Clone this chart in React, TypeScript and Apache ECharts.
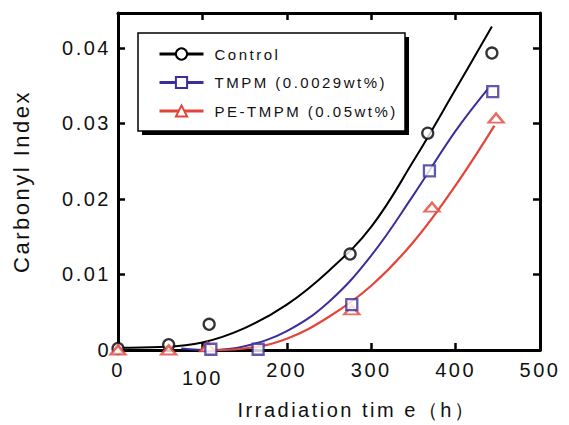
import React, { useEffect, useRef } from "react";
import * as echarts from "echarts";

// Measured points
const controlX = [0, 60, 108, 275, 367, 443];
const controlY = [0.0002, 0.0007, 0.0034, 0.0127, 0.0287, 0.0393];
const tmpmX = [110, 166, 277, 369, 444];
const tmpmY = [0.0001, 0.0001, 0.006, 0.0237, 0.0342];
const peX = [0, 60, 106, 277, 372, 448];
const peY = [0.0, 0.0, 0.0004, 0.0053, 0.0189, 0.0307];

// Fitted curves
const controlFitX = [0, 50, 100, 150, 200, 250, 300, 350, 400, 443];
const controlFitY = [0.0003, 0.0004, 0.001, 0.0029, 0.006, 0.0105, 0.0163, 0.025, 0.0345, 0.0428];
const tmpmFitX = [75, 110, 150, 200, 250, 300, 350, 400, 440];
const tmpmFitY = [0.0002, 0.0, 0.0005, 0.0025, 0.0064, 0.0125, 0.0205, 0.029, 0.0348];
const peFitX = [110, 150, 200, 250, 300, 350, 400, 446];
const peFitY = [0.0, 0.0002, 0.0015, 0.0044, 0.0085, 0.0143, 0.0218, 0.0297];

const seriesNames = ["Control", "TMPM (0.0029wt%)", "PE-TMPM (0.05wt%)"];
const xTitle = "Irradiation tim e（h）";
const yTitle = "Carbonyl Index";

const FONT = "'Liberation Sans', Arial, sans-serif";
const BLACK = "#000000";
const BLUE = "#3a2f98";
const RED = "#e4453a";

const zip = (xs: number[], ys: number[]) => xs.map((x, i) => [x, ys[i]]);

export default function App() {
  const ref = useRef<HTMLDivElement>(null);
  useEffect(() => {
    if (!ref.current) return;
    const chart = echarts.init(ref.current, undefined, { renderer: "svg" });
    const axisLine = { show: true, onZero: false, lineStyle: { color: "#000", width: 3 } };
    const axisTick = { show: true, inside: true, length: 7, lineStyle: { color: "#000", width: 2.5 } };
    const yFmt = (v: number) => {
      const r = Math.round(v * 100) / 100;
      if (Math.abs(v - r) > 1e-9) return "";
      return r === 0 ? "0" : r.toFixed(2);
    };
    const option: any = {
      animation: false,
      grid: { left: 118, right: 29, top: 13, bottom: 75 },
      xAxis: [
        {
          type: "value",
          min: 0,
          max: 500,
          interval: 100,
          position: "bottom",
          axisLine,
          axisTick,
          splitLine: { show: false },
          axisLabel: {
            margin: 10,
            fontSize: 20,
            color: "#111",
            fontFamily: FONT,
            formatter: (v: number) => (v === 100 ? "{low|100}" : String(v)),
            rich: { low: { padding: [8, 0, 0, 0], fontSize: 20, color: "#111", fontFamily: FONT } },
          },
          name: xTitle,
          nameLocation: "middle",
          nameGap: 50,
          nameTextStyle: { fontSize: 20, color: "#111", fontFamily: FONT, padding: [0, 0, 0, 56] },
        },
        {
          type: "value",
          min: 0,
          max: 500,
          interval: 100,
          position: "top",
          axisLine,
          axisTick,
          splitLine: { show: false },
          axisLabel: { show: false },
        },
      ],
      yAxis: [
        {
          type: "value",
          min: 0,
          max: 0.0446,
          interval: 0.01,
          position: "left",
          axisLine,
          axisTick,
          splitLine: { show: false },
          axisLabel: { margin: 7, fontSize: 20, color: "#111", fontFamily: FONT, formatter: yFmt },
          name: yTitle,
          nameLocation: "middle",
          nameGap: 86,
          nameTextStyle: { fontSize: 22, color: "#111", fontFamily: FONT },
        },
        {
          type: "value",
          min: 0,
          max: 0.0446,
          interval: 0.01,
          position: "right",
          axisLine,
          axisTick,
          splitLine: { show: false },
          axisLabel: { show: false },
        },
      ],
      legend: {
        orient: "vertical",
        left: 158,
        top: 46.5,
        padding: 0,
        itemWidth: 44,
        itemHeight: 14,
        itemGap: 13.5,
        data: seriesNames,
        lineStyle: { width: 3 },
        textStyle: { fontSize: 15, color: "#111", fontFamily: FONT, padding: [0, 0, 0, 6] },
      },
      graphic: [
        { type: "rect", z: 0, shape: { x: 142, y: 37, width: 267, height: 98 }, style: { fill: "#000" } },
        {
          type: "rect",
          z: 1,
          shape: { x: 138, y: 33, width: 267, height: 98 },
          style: { fill: "#fff", stroke: "#000", lineWidth: 1.5 },
        },
      ],
      series: [
        {
          type: "line",
          name: seriesNames[0],
          data: zip(controlFitX, controlFitY),
          smooth: 0.4,
          showSymbol: false,
          symbol: "emptyCircle",
          lineStyle: { color: BLACK, width: 2 },
          itemStyle: { color: BLACK },
          z: 2,
        },
        {
          type: "line",
          name: seriesNames[1],
          data: zip(tmpmFitX, tmpmFitY),
          smooth: 0.4,
          showSymbol: false,
          symbol: "emptyRect",
          lineStyle: { color: BLUE, width: 2 },
          itemStyle: { color: BLUE },
          z: 2,
        },
        {
          type: "line",
          name: seriesNames[2],
          data: zip(peFitX, peFitY),
          smooth: 0.4,
          showSymbol: false,
          symbol: "emptyTriangle",
          lineStyle: { color: RED, width: 2.2 },
          itemStyle: { color: RED },
          z: 2,
        },
        {
          type: "scatter",
          name: seriesNames[0],
          data: zip(controlX, controlY),
          symbol: "circle",
          symbolSize: 11,
          itemStyle: { color: "#fff", borderColor: BLACK, borderWidth: 2.3 },
          z: 3,
        },
        {
          type: "scatter",
          name: seriesNames[2],
          data: zip(peX, peY),
          symbol: "triangle",
          symbolSize: [15, 9],
          itemStyle: { color: "#fff", borderColor: RED, borderWidth: 2.3 },
          z: 3,
        },
        {
          type: "scatter",
          name: seriesNames[1],
          data: zip(tmpmX, tmpmY),
          symbol: "rect",
          symbolSize: 11,
          itemStyle: { color: "#fff", borderColor: BLUE, borderWidth: 2.3 },
          z: 4,
        },
      ],
    };
    chart.setOption(option);
    return () => chart.dispose();
  }, []);
  return (
    <div
      ref={ref}
      style={{
        position: "fixed",
        left: 0,
        top: 0,
        width: 569,
        height: 425,
        background: "#fff",
        letterSpacing: "2.5px",
      }}
    />
  );
}
